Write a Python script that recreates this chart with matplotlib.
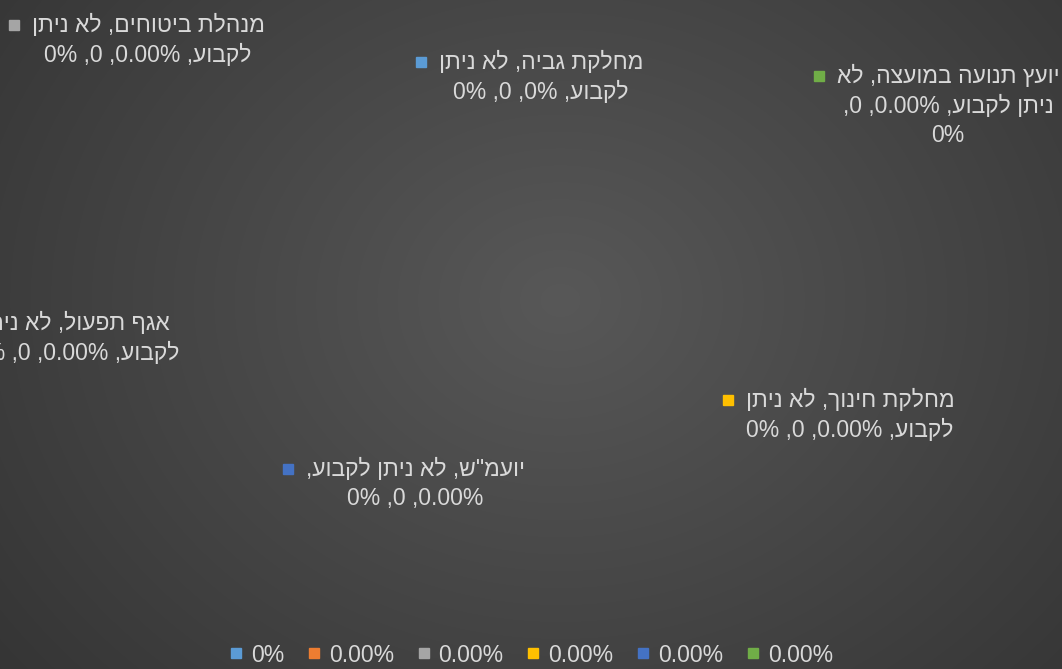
import re
import numpy as np
import matplotlib.pyplot as plt
from matplotlib.lines import Line2D

plt.rcParams['font.family'] = ['Liberation Sans Narrow', 'Liberation Sans', 'DejaVu Sans']

# pie data: every slice is zero, so only the data labels and legend remain
categories = ['מחלקת גביה', 'אגף תפעול', 'מנהלת ביטוחים', 'מחלקת חינוך', 'יועמ"ש', 'יועץ תנועה במועצה']
series_name = 'לא ניתן לקבוע'
values = ['0%', '0.00%', '0.00%', '0.00%', '0.00%', '0.00%']
counts = [0, 0, 0, 0, 0, 0]
percents = ['0%', '0%', '0%', '0%', '0%', '0%']
colors = ['#5B9BD5', '#ED7D31', '#A5A5A5', '#FFC000', '#4472C4', '#70AD47']

# where each data label sits (centre of first line, pixels) and words per line
label_pos = [(541, 62), (76, 323), (148, 25), (850, 400), (415, 469), (948, 76)]
line_words = [[4, 4], [4, 4], [4, 4], [4, 4], [4, 3], [4, 4, 1]]
line_step = 30
text_color = '#D9D9D9'
W, H = 1062, 669


def visual(line):
    # right-to-left line drawn left-to-right; numbers keep their own order
    rev = line[::-1]
    return re.sub(r'[%0-9.]+', lambda m: m.group(0)[::-1], rev)


fig = plt.figure(figsize=(W / 100, H / 100), dpi=100)
ax = fig.add_axes([0, 0, 1, 1])
ax.set_xlim(0, W)
ax.set_ylim(H, 0)
ax.axis('off')

# radial dark background
yy, xx = np.mgrid[0:H, 0:W]
r = np.hypot((xx - 560) / 650, (yy - 300) / 540)
shade = np.clip(0.345 - 0.125 * r, 0.2, 0.345)
ax.imshow(np.dstack([shade] * 3), extent=(0, W, H, 0), zorder=0, aspect='auto')

first_lines = []
for i, cat in enumerate(categories):
    words = f'{cat}, {series_name}, {values[i]}, {counts[i]}, {percents[i]}'.split(' ')
    x, y = label_pos[i]
    k = 0
    for j, n in enumerate(line_words[i]):
        line = ' '.join(words[k:k + n])
        k += n
        t = ax.text(x, y + j * line_step, visual(line), ha='center', va='center',
                    fontsize=16.5, color=text_color, zorder=3)
        if j == 0:
            first_lines.append(t)

# legend keys next to each label's first line
fig.canvas.draw()
inv = ax.transData.inverted()
for i, t in enumerate(first_lines):
    bb = t.get_window_extent()
    left = inv.transform((bb.x0, bb.y0))[0]
    ax.plot(left - 18, label_pos[i][1], marker='s', ms=7.5, color=colors[i],
            ls='', zorder=3, clip_on=False)

handles = [Line2D([], [], marker='s', ls='', ms=7.5, color=c) for c in colors]
ax.legend(handles, values, ncol=6, loc='center', bbox_to_anchor=(0.5, 1 - 655 / H),
          frameon=False, fontsize=16.5, labelcolor=text_color, handlelength=0.6,
          handletextpad=0.35, columnspacing=1.0)

fig.savefig('out.png', dpi=100)
